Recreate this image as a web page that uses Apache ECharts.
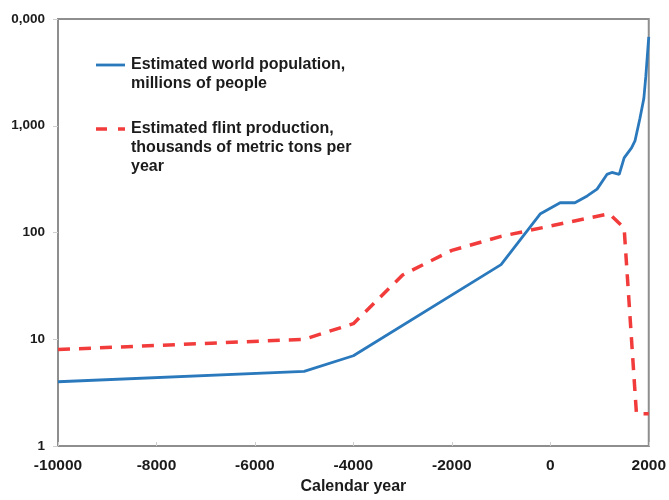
<!DOCTYPE html>
<html>
<head>
<meta charset="utf-8">
<script src="https://cdn.jsdelivr.net/npm/echarts@6/dist/echarts.min.js"></script>
<style>
  html, body { margin: 0; padding: 0; background: #fff; overflow: hidden; }
  /* the chart's own area begins 11px in, so anything left of that edge is cut away */
  #chart { position: absolute; left: 0; top: 0; width: 669px; height: 500px; clip-path: inset(0 0 0 11.5px); }
</style>
</head>
<body>
<div id="chart"></div>
<script>
// World population (millions of people) by calendar year
const populationYears  = [-10000, -5000, -4000, -1000, -200, 200, 500, 750, 950, 1150, 1250, 1400, 1500, 1650, 1720, 1820, 1900, 1940, 2000];
const populationValues = [4, 5, 7, 50, 150, 190, 190, 220, 255, 350, 365, 350, 500, 620, 720, 1170, 1800, 2900, 6800];

// Flint production (thousands of metric tons per year) by calendar year
const flintYears  = [-10000, -5000, -4000, -3000, -2000, -1000, 0, 1200, 1500, 1750, 2000];
const flintValues = [8, 10, 14, 40, 68, 92, 115, 150, 110, 2, 2];

const yTickValues = [1, 10, 100, 1000, 10000];
const yTickLabels = ['1', '10', '100', '1,000', '10,000'];

const legendPopulation = ['Estimated world population,', 'millions of people'];
const legendFlint = ['Estimated flint production,', 'thousands of metric tons per', 'year'];
const xAxisTitle = 'Calendar year';

const FONT = '"Liberation Sans", Arial, Helvetica, sans-serif';
const TEXT = '#1b1b1b';
const BLUE = '#2b79bd';
const RED = '#f23b3b';
const AXIS = '#8e8e8e';

const pairs = (xs, ys) => xs.map((x, i) => [x, ys[i]]);

const chart = echarts.init(document.getElementById('chart'), null, { renderer: 'canvas' });

chart.setOption({
  animation: false,
  backgroundColor: '#fff',
  grid: {
    left: 58, right: 17, top: 19, bottom: 47,
    show: true, borderColor: AXIS, borderWidth: 2, backgroundColor: 'transparent'
  },
  xAxis: {
    type: 'value',
    min: -10000, max: 2000, interval: 2000,
    name: xAxisTitle,
    nameLocation: 'middle',
    nameGap: 33,
    nameTextStyle: { fontFamily: FONT, fontWeight: 'bold', fontSize: 16, color: TEXT },
    axisLine: { show: true, onZero: false, lineStyle: { color: AXIS, width: 2 } },
    axisTick: { show: true, inside: true, length: 4, lineStyle: { color: '#cfcfcf', width: 1 } },
    axisLabel: {
      margin: 12, fontFamily: FONT, fontWeight: 'bold', fontSize: 15.5, color: TEXT,
      formatter: v => String(v)
    },
    splitLine: { show: false }
  },
  yAxis: {
    type: 'log',
    logBase: 10,
    min: 1, max: 10000,
    axisLine: { show: true, onZero: false, lineStyle: { color: AXIS, width: 2 } },
    axisTick: { show: true, length: 5, lineStyle: { color: '#cfcfcf', width: 1 } },
    axisLabel: {
      margin: 13, fontFamily: FONT, fontWeight: 'bold', fontSize: 13.5, color: TEXT,
      formatter: v => {
        const i = yTickValues.findIndex(t => Math.abs(t - v) < 1e-6 * t);
        return i >= 0 ? yTickLabels[i] : '';
      }
    },
    splitLine: { show: false }
  },
  series: [
    {
      name: legendPopulation.join(' '),
      type: 'line',
      data: pairs(populationYears, populationValues),
      showSymbol: false,
      lineStyle: { color: BLUE, width: 2.8 },
      z: 2
    },
    {
      name: legendFlint.join(' '),
      type: 'line',
      data: pairs(flintYears, flintValues),
      showSymbol: false,
      lineStyle: { color: RED, width: 3.5, type: [12, 9], cap: 'butt' },
      z: 3
    }
  ],
  graphic: [
    {
      type: 'line', shape: { x1: 96, y1: 65, x2: 125, y2: 65 },
      style: { stroke: BLUE, lineWidth: 2.8 }
    },
    {
      type: 'text', x: 131, y: 55.5,
      style: {
        text: legendPopulation.join('\n'), fill: TEXT,
        font: 'bold 16px ' + FONT, lineHeight: 19, verticalAlign: 'top', align: 'left'
      }
    },
    {
      type: 'line', shape: { x1: 96, y1: 129, x2: 125, y2: 129 },
      style: { stroke: RED, lineWidth: 3.5, lineDash: [11, 11] }
    },
    {
      type: 'text', x: 131, y: 119.5,
      style: {
        text: legendFlint.join('\n'), fill: TEXT,
        font: 'bold 16px ' + FONT, lineHeight: 19, verticalAlign: 'top', align: 'left'
      }
    }
  ]
});
</script>
</body>
</html>
